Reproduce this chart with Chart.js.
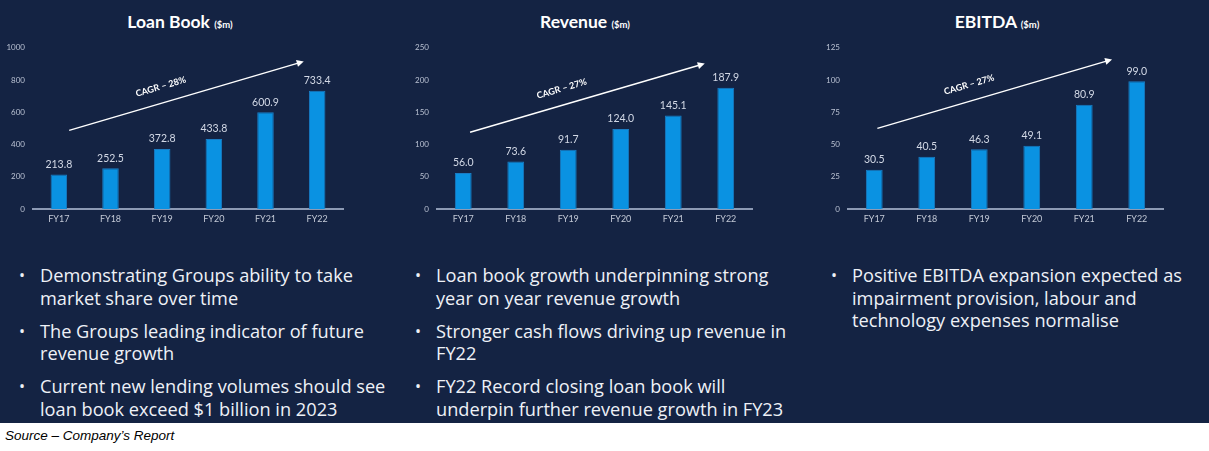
<!DOCTYPE html>
<html lang="en">
<head>
  <meta charset="UTF-8">
  <title>Loan Book, Revenue, EBITDA</title>
</head>
<style>
  body { margin: 0; background: #ffffff; width: 1209px; height: 451px; overflow: hidden; font-family: "Open Sans", Lato, sans-serif; }
  .panel { position: absolute; left: 0; top: 0; width: 1209px; height: 423px; background: #142343; }
  .box { position: absolute; }
  .title { position: absolute; top: 11px; width: 300px; text-align: center; color: #ffffff; font-family: Lato, sans-serif; font-weight: bold; font-size: 17.5px; }
  .title small { font-size: 9.5px; }
  .bullets { position: absolute; top: 264px; color: #eef1f7; font-size: 18.2px; line-height: 22.5px; white-space: nowrap; }
  .bullets div { position: relative; margin-bottom: 10.5px; }
  .bullets div::before { content: "\2022"; position: absolute; left: -21px; font-size: 16px; }
  .source { position: absolute; left: 5px; top: 428px; font-family: "Liberation Sans", sans-serif; font-style: italic; font-size: 13.5px; color: #000; }
</style>
<body>
<div class="panel"></div>

<div class="title" style="left: 30px;">Loan Book <small>($m)</small></div>
<div class="title" style="left: 435px;">Revenue <small>($m)</small></div>
<div class="title" style="left: 847px;">EBITDA <small>($m)</small></div>

<div class="box" style="left: 0px; top: 35px; width: 360px; height: 195px;"><canvas id="loanChart"></canvas></div>
<div class="box" style="left: 404px; top: 35px; width: 365px; height: 195px;"><canvas id="revenueChart"></canvas></div>
<div class="box" style="left: 815px; top: 35px; width: 365px; height: 195px;"><canvas id="ebitdaChart"></canvas></div>

<div class="bullets" style="left: 40px;">
  <div>Demonstrating Groups ability to take<br>market share over time</div>
  <div>The Groups leading indicator of future<br>revenue growth</div>
  <div>Current new lending volumes should see<br>loan book exceed $1 billion in 2023</div>
</div>
<div class="bullets" style="left: 436px;">
  <div>Loan book growth underpinning strong<br>year on year revenue growth</div>
  <div>Stronger cash flows driving up revenue in<br>FY22</div>
  <div>FY22 Record closing loan book will<br>underpin further revenue growth in FY23</div>
</div>
<div class="bullets" style="left: 852px;">
  <div>Positive EBITDA expansion expected as<br>impairment provision, labour and<br>technology expenses normalise</div>
</div>

<div class="source">Source – Company’s Report</div>

<script src="https://cdn.jsdelivr.net/npm/chart.js"></script>
<script>
  // data
  const years = ['FY17', 'FY18', 'FY19', 'FY20', 'FY21', 'FY22'];
  const loanBook = [213.8, 252.5, 372.8, 433.8, 600.9, 733.4];
  const revenue = [56.0, 73.6, 91.7, 124.0, 145.1, 187.9];
  const ebitda = [30.5, 40.5, 46.3, 49.1, 80.9, 99.0];
  const cagrLabels = ['CAGR – 28%', 'CAGR – 27%', 'CAGR – 27%'];

  // arrow start/end as [category index, value]
  const arrows = [
    [[0.2, 488], [4.74, 915]],
    [[0.13, 119], [4.6, 225.5]],
    [[0.06, 62.5], [4.53, 116]]
  ];

  const barLabels = {
    id: 'barLabels',
    afterDatasetsDraw(chart) {
      const ctx = chart.ctx;
      const meta = chart.getDatasetMeta(0);
      ctx.save();
      ctx.fillStyle = '#d3d9e6';
      ctx.font = '10.5px Lato, sans-serif';
      ctx.textAlign = 'center';
      ctx.textBaseline = 'middle';
      meta.data.forEach((bar, i) => {
        const v = chart.data.datasets[0].data[i];
        ctx.fillText(v.toFixed(1), bar.x, bar.y - 10);
      });
      ctx.restore();
    }
  };

  const cagrArrow = {
    id: 'cagrArrow',
    afterDraw(chart, args, opts) {
      const x = chart.scales.x, y = chart.scales.y;
      const x1 = x.getPixelForValue(opts.from[0]), y1 = y.getPixelForValue(opts.from[1]);
      const x2 = x.getPixelForValue(opts.to[0]), y2 = y.getPixelForValue(opts.to[1]);
      const ang = Math.atan2(y2 - y1, x2 - x1);
      const ctx = chart.ctx;
      ctx.save();
      ctx.strokeStyle = '#ffffff';
      ctx.fillStyle = '#ffffff';
      ctx.lineWidth = 1.4;
      ctx.beginPath();
      ctx.moveTo(x1, y1);
      ctx.lineTo(x2 - 5 * Math.cos(ang), y2 - 5 * Math.sin(ang));
      ctx.stroke();
      ctx.translate(x2, y2);
      ctx.rotate(ang);
      ctx.beginPath();
      ctx.moveTo(0, 0);
      ctx.lineTo(-7, -3.5);
      ctx.lineTo(-7, 3.5);
      ctx.closePath();
      ctx.fill();
      ctx.restore();

      // label above the middle of the arrow
      const t = 0.41;
      const mx = x1 + (x2 - x1) * t, my = y1 + (y2 - y1) * t;
      ctx.save();
      ctx.translate(mx + 16 * Math.sin(ang), my - 16 * Math.cos(ang));
      ctx.rotate(ang);
      ctx.fillStyle = '#ffffff';
      ctx.font = 'bold 9px Lato, sans-serif';
      ctx.textAlign = 'center';
      ctx.textBaseline = 'middle';
      ctx.fillText(opts.text, 0, 0);
      ctx.restore();
    }
  };

  function createChart(canvasId, values, max, step, idx) {
    const ctx = document.getElementById(canvasId).getContext('2d');
    return new Chart(ctx, {
      type: 'bar',
      data: {
        labels: years,
        datasets: [{
          data: values,
          backgroundColor: '#0a92e2',
          borderColor: '#1a7cc4',
          borderWidth: 1,
          barPercentage: 0.32,
          categoryPercentage: 1
        }]
      },
      plugins: [barLabels, cagrArrow],
      options: {
        responsive: true,
        maintainAspectRatio: false,
        animation: false,
        layout: { padding: { top: 10, right: 17, left: 0, bottom: 0 } },
        plugins: {
          legend: { display: false },
          tooltip: { enabled: false },
          cagrArrow: { from: arrows[idx][0], to: arrows[idx][1], text: cagrLabels[idx] }
        },
        scales: {
          x: {
            grid: { display: false, drawTicks: false },
            border: { display: true, color: '#8d9ab4', width: 2 },
            ticks: { color: '#c3c9d6', font: { size: 9, family: 'Lato' }, padding: 5 },
            afterFit(axis) { axis.height = 21; }
          },
          y: {
            min: 0,
            max: max,
            grid: { display: false, drawTicks: false },
            border: { display: false },
            ticks: {
              stepSize: step,
              color: '#b9c1d2',
              font: { size: 8, family: 'Lato' },
              padding: 8,
              callback: (v) => String(v)
            },
            afterFit(axis) { axis.width = 33; }
          }
        }
      }
    });
  }

  createChart('loanChart', loanBook, 1000, 200, 0);
  createChart('revenueChart', revenue, 250, 50, 1);
  createChart('ebitdaChart', ebitda, 125, 25, 2);
</script>
</body>
</html>
